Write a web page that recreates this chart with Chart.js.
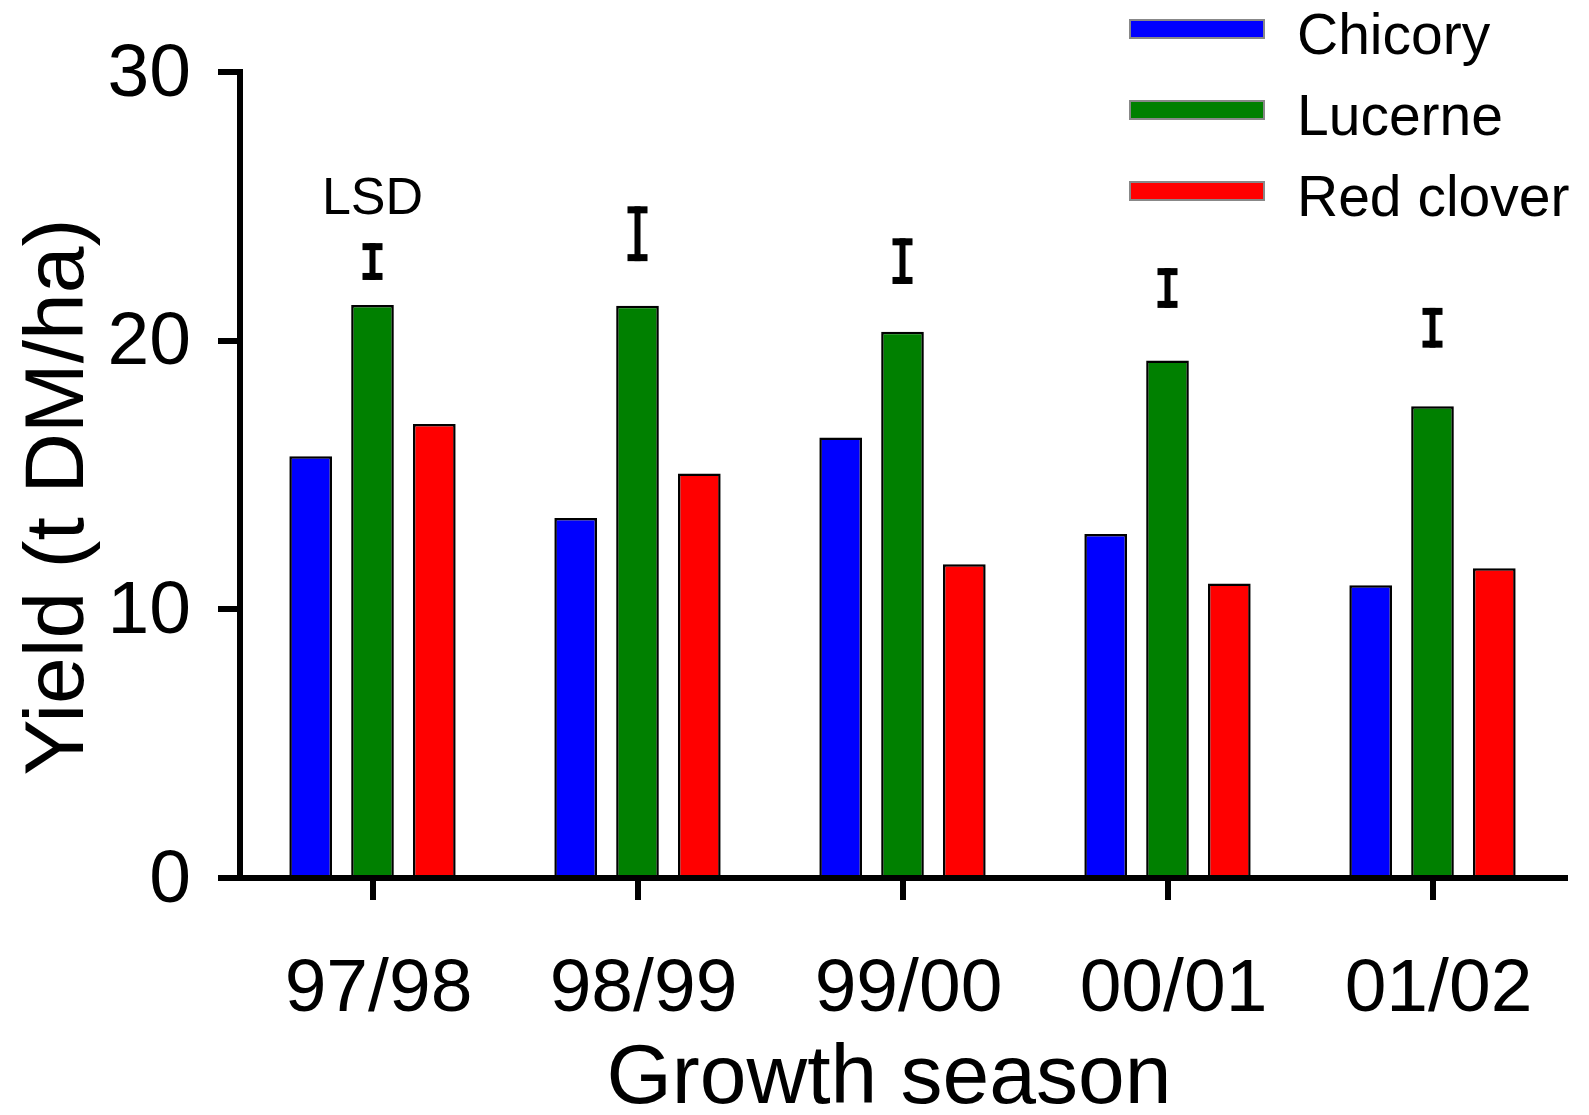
<!DOCTYPE html>
<html lang="en">
<head>
    <meta charset="UTF-8">
    <title>Yield by growth season</title>
    <script src="https://cdn.jsdelivr.net/npm/chart.js"></script>
    <style>
        body { margin: 0; background: #fff; }
        .chart-box { width: 1589px; height: 1115px; }
    </style>
</head>
<body>
<div class="chart-box">
    <canvas id="graficoYield"></canvas>
</div>
<script>
    const seasons = ['97/98', '98/99', '99/00', '00/01', '01/02'];
    const chicory = [15.7, 13.4, 16.4, 12.8, 10.9];
    const lucerne = [21.33, 21.3, 20.33, 19.26, 17.56];
    const redClover = [16.9, 15.06, 11.68, 10.96, 11.53];
    // LSD bar ends for each season
    const lsdLow = [22.26, 22.96, 22.11, 21.22, 19.74];
    const lsdHigh = [23.63, 25.0, 23.81, 22.70, 21.22];
    const yTicks = [0, 10, 20, 30];

    const FONT = '"Liberation Sans", Arial, Helvetica, sans-serif';

    // LSD markers, axis titles and the legend are drawn by hand
    const extras = {
        id: 'extras',
        afterDraw(chart) {
            const ctx = chart.ctx;
            const y = chart.scales.y;
            const meta = chart.getDatasetMeta(1);
            ctx.save();
            ctx.fillStyle = '#000';
            meta.data.forEach((bar, i) => {
                const top = y.getPixelForValue(lsdHigh[i]);
                const bottom = y.getPixelForValue(lsdLow[i]);
                ctx.fillRect(bar.x - 3, top, 6, bottom - top);
                ctx.fillRect(bar.x - 10, top, 20, 7);
                ctx.fillRect(bar.x - 10, bottom - 7, 20, 7);
                if (i === 0) {
                    ctx.font = '52px ' + FONT;
                    ctx.textAlign = 'center';
                    ctx.textBaseline = 'alphabetic';
                    ctx.fillText('LSD', bar.x, top - 29);
                }
            });

            // axis titles
            ctx.font = '84px ' + FONT;
            ctx.textAlign = 'center';
            ctx.textBaseline = 'middle';
            ctx.fillText('Growth season', 889, 1080);
            ctx.save();
            ctx.translate(60, 497);
            ctx.rotate(-Math.PI / 2);
            ctx.fillText('Yield (t DM/ha)', 0, 0);
            ctx.restore();

            // legend
            ctx.font = '57px ' + FONT;
            ctx.textAlign = 'left';
            chart.data.datasets.forEach((ds, i) => {
                const cy = 29 + i * 81;
                ctx.fillStyle = ds.backgroundColor;
                ctx.fillRect(1130, cy - 9, 134, 18);
                ctx.strokeStyle = '#888';
                ctx.lineWidth = 2;
                ctx.strokeRect(1130, cy - 9, 134, 18);
                ctx.fillStyle = '#000';
                ctx.fillText(ds.label, 1297, cy + 9);
            });
            ctx.restore();
        }
    };

    new Chart(document.getElementById('graficoYield'), {
        type: 'bar',
        data: {
            labels: seasons,
            datasets: [
                { label: 'Chicory', data: chicory, backgroundColor: '#0000ff' },
                { label: 'Lucerne', data: lucerne, backgroundColor: '#008000' },
                { label: 'Red clover', data: redClover, backgroundColor: '#ff0000' }
            ]
        },
        options: {
            responsive: true,
            maintainAspectRatio: false,
            animation: false,
            layout: { padding: { top: 68, right: 24, left: 0, bottom: 0 } },
            datasets: {
                bar: {
                    categoryPercentage: 0.7,
                    barPercentage: 0.69,
                    borderColor: '#000',
                    borderWidth: 2.5
                }
            },
            plugins: {
                legend: { display: false },
                tooltip: { enabled: false }
            },
            scales: {
                x: {
                    z: 1,
                    offset: true,
                    afterFit(scale) { scale.height = 237; },
                    border: { display: true, color: '#000', width: 6 },
                    grid: {
                        offset: false,
                        drawOnChartArea: false,
                        drawTicks: true,
                        tickLength: 22,
                        color: '#000',
                        lineWidth: 6
                    },
                    ticks: {
                        color: '#000',
                        padding: 45,
                        labelOffset: 6,
                        maxRotation: 0,
                        font: { family: FONT, size: 75, lineHeight: 1.2 }
                    }
                },
                y: {
                    z: 1,
                    min: 0,
                    max: 30,
                    afterFit(scale) { scale.width = 240; },
                    afterBuildTicks(scale) { scale.ticks = yTicks.map(v => ({ value: v })); },
                    border: { display: true, color: '#000', width: 6 },
                    grid: {
                        drawOnChartArea: false,
                        drawTicks: true,
                        tickLength: 22,
                        color: '#000',
                        lineWidth: 6
                    },
                    ticks: {
                        color: '#000',
                        padding: 27,
                        labelOffset: 3,
                        font: { family: FONT, size: 75 }
                    }
                }
            }
        },
        plugins: [extras]
    });
</script>
</body>
</html>
